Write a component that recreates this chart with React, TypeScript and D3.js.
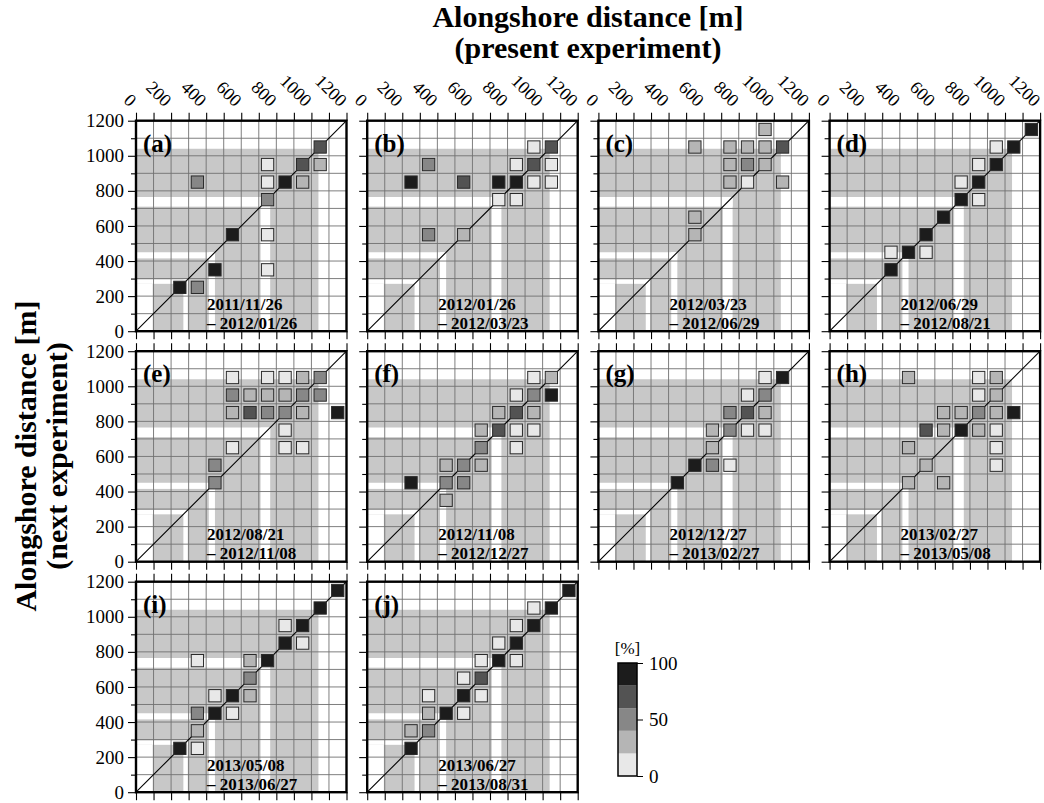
import { useEffect, useRef } from 'react';
import * as d3 from 'd3';

// One panel per survey interval: (a) ... (j)
const PANEL_LABELS = ['(a)', '(b)', '(c)', '(d)', '(e)', '(f)', '(g)', '(h)', '(i)', '(j)'];
const PERIOD_START = [
  '2011/11/26', '2012/01/26', '2012/03/23', '2012/06/29', '2012/08/21',
  '2012/11/08', '2012/12/27', '2013/02/27', '2013/05/08', '2013/06/27',
];
const PERIOD_END = [
  '2012/01/26', '2012/03/23', '2012/06/29', '2012/08/21', '2012/11/08',
  '2012/12/27', '2013/02/27', '2013/05/08', '2013/06/27', '2013/08/31',
];

// [present alongshore (m), next alongshore (m), share (%)] - cell centres
type Cell = [number, number, number];

const CELLS_A: Cell[] = [
  [1050, 1050, 70], [750, 950, 10], [950, 950, 70], [1050, 950, 30],
  [350, 850, 50], [750, 850, 10], [850, 850, 90], [950, 850, 30],
  [750, 750, 50], [550, 550, 90], [750, 550, 10], [450, 350, 90],
  [750, 350, 10], [250, 250, 90], [350, 250, 50],
];
const CELLS_B: Cell[] = [
  [950, 1050, 10], [1050, 1050, 70], [350, 950, 50], [850, 950, 10],
  [950, 950, 70], [1050, 950, 10], [250, 850, 90], [550, 850, 70],
  [750, 850, 90], [850, 850, 90], [950, 850, 10], [1050, 850, 10],
  [750, 750, 10], [850, 750, 10], [350, 550, 50], [550, 550, 30],
];
const CELLS_C: Cell[] = [
  [950, 1150, 30], [550, 1050, 30], [750, 1050, 30], [850, 1050, 30],
  [950, 1050, 30], [1050, 1050, 70], [750, 950, 30], [850, 950, 50],
  [950, 950, 30], [750, 850, 30], [850, 850, 10], [1050, 850, 30],
  [550, 650, 30], [550, 550, 30],
];
const CELLS_D: Cell[] = [
  [1150, 1150, 90], [950, 1050, 10], [1050, 1050, 90], [850, 950, 10],
  [950, 950, 90], [750, 850, 10], [850, 850, 90], [750, 750, 90],
  [850, 750, 10], [650, 650, 90], [550, 550, 90], [350, 450, 10],
  [450, 450, 90], [550, 450, 10], [350, 350, 90],
];
const CELLS_E: Cell[] = [
  [550, 1050, 10], [750, 1050, 10], [850, 1050, 10], [950, 1050, 30], [1050, 1050, 50],
  [550, 950, 50], [650, 950, 30], [750, 950, 30], [850, 950, 30], [950, 950, 50], [1050, 950, 50],
  [550, 850, 30], [650, 850, 70], [750, 850, 50], [850, 850, 50], [950, 850, 30], [1150, 850, 90],
  [850, 750, 10], [550, 650, 10], [850, 650, 10], [950, 650, 10],
  [450, 550, 50], [450, 450, 50],
];
const CELLS_F: Cell[] = [
  [950, 1050, 10], [1050, 1050, 30], [850, 950, 10], [950, 950, 50], [1050, 950, 90],
  [750, 850, 30], [850, 850, 70], [950, 850, 30],
  [650, 750, 30], [750, 750, 70], [850, 750, 10], [950, 750, 10],
  [650, 650, 50], [850, 650, 10],
  [450, 550, 30], [550, 550, 50], [650, 550, 30],
  [250, 450, 90], [450, 450, 50], [550, 450, 50], [450, 350, 30],
];
const CELLS_G: Cell[] = [
  [950, 1050, 10], [1050, 1050, 90], [850, 950, 10], [950, 950, 50],
  [750, 850, 50], [850, 850, 70], [950, 850, 30],
  [650, 750, 30], [750, 750, 50], [850, 750, 10], [950, 750, 10],
  [650, 650, 30], [550, 550, 90], [650, 550, 50], [750, 550, 10], [450, 450, 90],
];
const CELLS_H: Cell[] = [
  [450, 1050, 30], [850, 1050, 10], [950, 1050, 30], [850, 950, 10], [950, 950, 30],
  [650, 850, 30], [750, 850, 30], [850, 850, 50], [950, 850, 30], [1050, 850, 90],
  [550, 750, 70], [650, 750, 30], [750, 750, 90], [850, 750, 30], [950, 750, 10],
  [450, 650, 30], [950, 650, 10], [550, 550, 30], [950, 550, 10],
  [450, 450, 30], [650, 450, 30],
];
const CELLS_I: Cell[] = [
  [1150, 1150, 90], [1050, 1050, 90], [850, 950, 10], [950, 950, 90],
  [850, 850, 90], [950, 850, 10], [350, 750, 10], [650, 750, 30], [750, 750, 90],
  [650, 650, 50], [450, 550, 10], [550, 550, 90], [650, 550, 30],
  [350, 450, 50], [450, 450, 90], [550, 450, 10], [350, 350, 30],
  [250, 250, 90], [350, 250, 10],
];
const CELLS_J: Cell[] = [
  [1150, 1150, 90], [950, 1050, 10], [1050, 1050, 90], [850, 950, 10], [950, 950, 90],
  [750, 850, 10], [850, 850, 90], [650, 750, 10], [750, 750, 90], [850, 750, 10],
  [550, 650, 10], [650, 650, 70], [350, 550, 10], [550, 550, 90], [650, 550, 10],
  [350, 450, 30], [450, 450, 90], [550, 450, 10], [250, 350, 30], [350, 350, 50],
  [250, 250, 90],
];
const PANEL_CELLS = [CELLS_A, CELLS_B, CELLS_C, CELLS_D, CELLS_E, CELLS_F, CELLS_G, CELLS_H, CELLS_I, CELLS_J];

// Axis range and survey coverage (m)
const AXIS_MAX = 1200;
const GRID_STEP = 100;
const COVERAGE_MAX = 1040;
const GAP_BANDS: [number, number][] = [[270, 295], [415, 450], [710, 765]];
const ORIGIN_GAP: [number, number] = [95, 270]; // present < 95 m while next < 270 m

// Colour bins (%)
const PERCENT_BREAKS = [20, 40, 60, 80];
const PERCENT_FILLS = ['#e8e8e8', '#b5b5b5', '#878787', '#535353', '#1c1c1c'];
const COLORBAR_TICKS = [0, 50, 100];

// Layout
const W = 1044;
const H = 803;
const PANEL = 210.5;
const LEFT0 = 136;
const COL_STEP = 231.2;
const TOP0 = 120.7;
const ROW_STEP = 230.5;
const SERIF = '"Liberation Serif", "Times New Roman", Times, serif';

export default function App() {
  const svgRef = useRef<SVGSVGElement>(null);

  useEffect(() => {
    if (!svgRef.current) return;
    const svg = d3.select(svgRef.current);
    svg.selectAll('*').remove();

    const color = d3.scaleThreshold<number, string>().domain(PERCENT_BREAKS).range(PERCENT_FILLS);
    const x = d3.scaleLinear().domain([0, AXIS_MAX]).range([0, PANEL]);
    const y = d3.scaleLinear().domain([0, AXIS_MAX]).range([PANEL, 0]);
    const cellW = x(GRID_STEP) - x(0);
    const sq = cellW * 0.7;
    const gridVals = d3.range(0, AXIS_MAX + 1, GRID_STEP);
    const majorVals = gridVals.filter(v => v % 200 === 0);
    const minorVals = gridVals.filter(v => v % 200 !== 0);

    PANEL_CELLS.forEach((cells, k) => {
      const col = k % 4;
      const row = Math.floor(k / 4);
      const g = svg
        .append('g')
        .attr('transform', `translate(${LEFT0 + col * COL_STEP}, ${TOP0 + row * ROW_STEP})`);

      // Surveyed area (gray) with gaps
      const block = (x0: number, x1: number, y0: number, y1: number, fill: string) =>
        g
          .append('rect')
          .attr('x', x(x0))
          .attr('y', y(y1))
          .attr('width', x(x1) - x(x0))
          .attr('height', y(y0) - y(y1))
          .attr('fill', fill);
      block(0, COVERAGE_MAX, 0, COVERAGE_MAX, '#c8c8c8');
      GAP_BANDS.forEach(([lo, hi]) => {
        block(lo, hi, 0, hi, '#ffffff');
        block(0, hi, lo, hi, '#ffffff');
      });
      block(0, ORIGIN_GAP[0], 0, ORIGIN_GAP[1], '#ffffff');

      // Grid
      const inner = gridVals.slice(1, -1);
      g.selectAll('.gx')
        .data(inner)
        .enter()
        .append('line')
        .attr('x1', (d: number) => x(d))
        .attr('x2', (d: number) => x(d))
        .attr('y1', 0)
        .attr('y2', PANEL)
        .attr('stroke', '#707070')
        .attr('stroke-width', 0.9);
      g.selectAll('.gy')
        .data(inner)
        .enter()
        .append('line')
        .attr('y1', (d: number) => y(d))
        .attr('y2', (d: number) => y(d))
        .attr('x1', 0)
        .attr('x2', PANEL)
        .attr('stroke', '#707070')
        .attr('stroke-width', 0.9);

      // 1:1 line
      g.append('line')
        .attr('x1', x(0))
        .attr('y1', y(0))
        .attr('x2', x(AXIS_MAX))
        .attr('y2', y(AXIS_MAX))
        .attr('stroke', '#000')
        .attr('stroke-width', 1.1);

      // Cells
      g.selectAll('.cell')
        .data(cells)
        .enter()
        .append('rect')
        .attr('x', (d: Cell) => x(d[0]) - sq / 2)
        .attr('y', (d: Cell) => y(d[1]) - sq / 2)
        .attr('width', sq)
        .attr('height', sq)
        .attr('fill', (d: Cell) => color(d[2]))
        .attr('stroke', '#2a2a2a')
        .attr('stroke-width', 1);

      // Frame
      g.append('rect')
        .attr('width', PANEL)
        .attr('height', PANEL)
        .attr('fill', 'none')
        .attr('stroke', '#000')
        .attr('stroke-width', 2.4);

      // Axes
      const styleAxis = (sel: any) => {
        sel.select('.domain').remove();
        sel.attr('font-family', SERIF).attr('font-size', 19);
        sel.selectAll('text').attr('fill', '#000');
        sel.selectAll('line').attr('stroke-width', 1.1);
      };
      g.append('g')
        .call(
          d3.axisLeft(y).tickValues(majorVals).tickSize(8).tickPadding(4)
            .tickFormat(col === 0 ? d3.format('d') : () => '')
        )
        .call(styleAxis);
      g.append('g').call(d3.axisLeft(y).tickValues(minorVals).tickSize(5).tickFormat(() => '')).call(styleAxis);
      g.append('g')
        .attr('transform', `translate(0, ${PANEL})`)
        .call(d3.axisBottom(x).tickValues(gridVals).tickSize(8).tickFormat(() => ''))
        .call(styleAxis);
      g.append('g')
        .call(d3.axisTop(x).tickValues(gridVals).tickSize(8).tickFormat(() => ''))
        .call(styleAxis);

      if (row === 0) {
        g.selectAll('.toplab')
          .data(majorVals)
          .enter()
          .append('text')
          .attr('transform', (d: number) => `translate(${x(d) - 7}, -13) rotate(45)`)
          .attr('text-anchor', 'end')
          .attr('font-family', SERIF)
          .attr('font-size', 18)
          .text((d: number) => `${d}`);
      }

      // Panel tag and period
      g.append('text')
        .attr('x', 7)
        .attr('y', 31)
        .attr('font-family', SERIF)
        .attr('font-weight', 'bold')
        .attr('font-size', 25)
        .text(PANEL_LABELS[k]);
      g.append('text')
        .attr('x', 71)
        .attr('y', PANEL - 21.5)
        .attr('font-family', SERIF)
        .attr('font-weight', 'bold')
        .attr('font-size', 17)
        .text(PERIOD_START[k]);
      g.append('text')
        .attr('x', 71)
        .attr('y', PANEL - 2.5)
        .attr('font-family', SERIF)
        .attr('font-weight', 'bold')
        .attr('font-size', 17)
        .text(`\u2013 ${PERIOD_END[k]}`);
    });

    // Axis titles
    const top = svg
      .append('text')
      .attr('text-anchor', 'middle')
      .attr('font-family', SERIF)
      .attr('font-weight', 'bold')
      .attr('font-size', 30);
    top.append('tspan').attr('x', 588).attr('y', 27).text('Alongshore distance [m]');
    top.append('tspan').attr('x', 588).attr('y', 58).text('(present experiment)');

    const left = svg
      .append('text')
      .attr('transform', `translate(0, 456) rotate(-90)`)
      .attr('text-anchor', 'middle')
      .attr('font-family', SERIF)
      .attr('font-weight', 'bold')
      .attr('font-size', 30);
    left.append('tspan').attr('x', 0).attr('y', 36).text('Alongshore distance [m]');
    left.append('tspan').attr('x', 0).attr('y', 67).text('(next experiment)');

    // Colour bar
    const cbX = 618;
    const cbW = 19;
    const cbY = d3.scaleLinear().domain([0, 100]).range([776, 663]);
    const edges = [0, ...PERCENT_BREAKS, 100];
    const cb = svg.append('g');
    cb.selectAll('rect')
      .data(d3.pairs(edges))
      .enter()
      .append('rect')
      .attr('x', cbX)
      .attr('y', (d: [number, number]) => cbY(d[1]))
      .attr('width', cbW)
      .attr('height', (d: [number, number]) => cbY(d[0]) - cbY(d[1]))
      .attr('fill', (d: [number, number]) => color((d[0] + d[1]) / 2));
    cb.append('rect')
      .attr('x', cbX)
      .attr('y', cbY(100))
      .attr('width', cbW)
      .attr('height', cbY(0) - cbY(100))
      .attr('fill', 'none')
      .attr('stroke', '#000')
      .attr('stroke-width', 1.5);
    cb.append('g')
      .attr('transform', `translate(${cbX + cbW}, 0)`)
      .call(d3.axisRight(cbY).tickValues(COLORBAR_TICKS).tickSize(6).tickPadding(6).tickFormat(d3.format('d')))
      .call((sel: any) => {
        sel.select('.domain').remove();
        sel.attr('font-family', SERIF).attr('font-size', 19);
        sel.selectAll('text').attr('fill', '#000');
      });
    cb.append('text')
      .attr('x', cbX + cbW / 2)
      .attr('y', cbY(100) - 9)
      .attr('text-anchor', 'middle')
      .attr('font-family', SERIF)
      .attr('font-size', 17)
      .text('[%]');
  }, []);

  return (
    <div style={{ position: 'absolute', left: 0, top: 0 }}>
      <svg ref={svgRef} width={W} height={H} style={{ display: 'block', background: '#ffffff' }} />
    </div>
  );
}
